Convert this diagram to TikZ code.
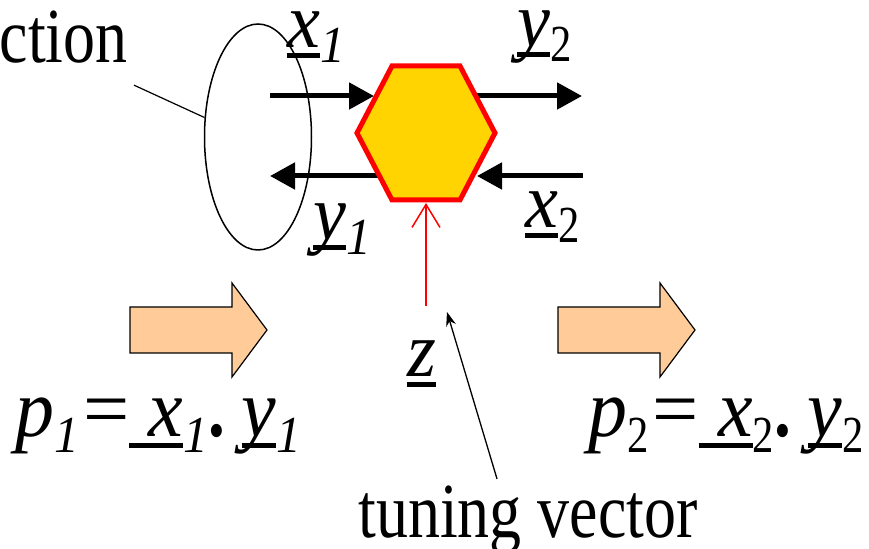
\documentclass[tikz,border=0pt]{standalone}
\usepackage{fontspec}
\setmainfont{Liberation Serif}[
  UprightFeatures={FakeStretch=0.82},
  BoldFeatures={FakeStretch=0.82},
  ItalicFeatures={FakeStretch=0.95}]
\newfontfamily\mth{Liberation Serif}
\usetikzlibrary{positioning,shapes.geometric,arrows.meta}
\definecolor{ink}   {HTML}{000000}
\definecolor{hexred}{HTML}{FF0000}
\definecolor{gold}  {HTML}{FFD400}
\definecolor{peach} {HTML}{FFCC99}
% subscript and underlined vector
\newcommand{\sbi}[1]{\raisebox{-0.19em}{\fontsize{26}{26}\selectfont #1}}
\newcommand{\uvec}[1]{\setbox0=\hbox{\itshape #1}\rlap{\rule[-0.13em]{\wd0}{0.06em}}\box0}
\newcommand{\eqs}{\kern2pt{\mth =}}
\tikzset{
  every node/.style={font=\fontsize{39}{44}\selectfont, inner sep=0pt},
  % --- nodes
  lbl/.style   = {anchor=base west},
  prod/.style  = {lbl, font=\fontsize{41}{46}\selectfont},
  grpel/.style = {draw=ink, ellipse, line width=0.75pt},
  hexa/.style  = {draw=hexred, fill=gold, line width=2.5pt, line join=miter},
  blk/.style   = {draw=ink, fill=peach, line width=0.6pt, line join=miter},
  % --- edges
  flow/.style    = {-{Triangle[length=12.5pt,width=13pt]}, line width=2.5pt, draw=ink},
  tune/.style    = {-{Straight Barb[length=11.5pt,width=14pt]}, line width=0.75pt, draw=hexred},
  pointer/.style = {-{Stealth[length=7pt,width=5pt]}, line width=0.65pt, draw=ink},
  leader/.style  = {line width=0.6pt, draw=ink},
}
\begin{document}
\begin{tikzpicture}[x=0.5pt,y=-0.5pt]
  \useasboundingbox (0,0) rectangle (869,549);
  % arrow ends
  \coordinate (x1s) at (270,96);  \coordinate (x1e) at (374,96);
  \coordinate (y1s) at (380,176); \coordinate (y1e) at (270,176);
  \coordinate (y2s) at (474,96);  \coordinate (y2e) at (582,96);
  \coordinate (x2s) at (583,176); \coordinate (x2e) at (477,176);
  \foreach \a/\b in {x1s/x1e,y1s/y1e,y2s/y2e,x2s/x2e} \draw[flow] (\a) -- (\b);
  % the two-port block
  \draw[hexa] (357,133) -- (392,66) -- (460,66) -- (495,133) -- (460,200) -- (392,200) -- cycle;
  \coordinate (hexb) at (426,203);
  \coordinate (zs) at (426,306);
  \draw[tune] (zs) -- (hexb);
  % connection group
  \node[grpel, minimum width=53.5pt, minimum height=113pt] (grp) at (258,137) {};
  \node[anchor=base east] (conn) at (128,63) {ction};
  \draw[leader] ([shift={(3pt,-10.5pt)}]conn.south east) -- (grp.160);
  % port labels
  \node[lbl] (x1) at (287,48)  {\uvec{x}\sbi{\textit{1}}};
  \node[lbl] (y2) at (517,47)  {\uvec{y}\sbi{2}};
  \node[lbl] (y1) at (313,240) {\uvec{y}\sbi{\textit{1}}};
  \node[lbl] (x2) at (525,228) {\uvec{x}\sbi{2}};
  \node[lbl] (z)  at (407,377) {\uvec{z}};
  % block arrows
  \foreach \bx in {130,558}
    \draw[blk] (\bx,307) -- ++(102,0) -- ++(0,-24) -- ++(35,47) -- ++(-35,47) -- ++(0,-24) -- ++(-102,0) -- cycle;
  \node[prod] (p1) at (15,437)  {\textit{p}\sbi{\textit{1}}\eqs\uvec{\ x}\sbi{\textit{1}}\textbf{.}\ \uvec{y}\sbi{\textit{1}}};
  \node[prod] (p2) at (588,437) {\textit{p}\sbi{2}\eqs\uvec{\ x}\sbi{2}\textbf{.}\ \uvec{y}\sbi{2}};
  % tuning vector
  \node[lbl] (tv) at (358,538) {tuning vector};
  \coordinate (zt) at (447,312);
  \draw[pointer] ([shift={(-15.5pt,3.5pt)}]tv.north) -- (zt);
\end{tikzpicture}
\end{document}
